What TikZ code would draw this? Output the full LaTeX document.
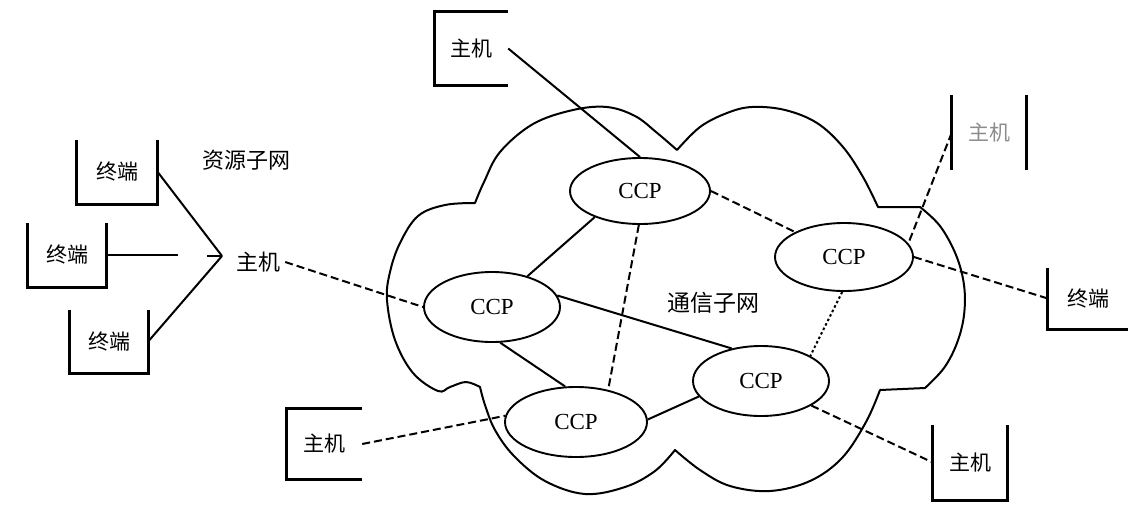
\documentclass[tikz,border=0pt]{standalone}
\usepackage{fontspec}
\setmainfont{Liberation Serif}
\newfontfamily\cjk{Noto Sans CJK SC}
\usetikzlibrary{shapes.geometric}
\begin{document}
\begin{tikzpicture}[x=1pt,y=-1pt,
  ccp/.style={ellipse, draw, line width=1.9pt, inner sep=0pt, font=\fontsize{23}{23}\selectfont},
  box/.style={inner sep=0pt, font=\cjk\fontsize{21}{21}\selectfont},
  side/.style={line width=2.8pt},
  link/.style={line width=2pt},
  dlink/.style={link, dash pattern=on 8pt off 4pt},
  dotlink/.style={link, dash pattern=on 2.5pt off 2.5pt},
  cloudline/.style={line width=2pt, line join=round},
  lbl/.style={inner sep=0pt, font=\cjk\fontsize{22}{22}\selectfont}
]
\useasboundingbox (0,0) rectangle (1147,530);

% cloud (communication subnet boundary)
\draw[cloudline]
  plot[smooth, tension=0.6] coordinates {(475,203) (484,182) (500,152) (533,124) (573,110) (607,107) (635,116) (656,132) (677,150)}
  -- plot[smooth, tension=0.6] coordinates {(677,150) (700,127) (727,113) (752,107) (785,110) (817,123) (843,147) (863,177) (878,207)}
  -- (920,207)
  -- plot[smooth, tension=0.6] coordinates {(920,207) (940,226) (956,255) (964,285) (964,315) (957,343) (944,368) (925,388)}
  -- (880,390)
  -- plot[smooth, tension=0.6] coordinates {(880,390) (866,422) (842,458) (810,481) (770,491) (730,486) (700,470) (675,450)}
  -- plot[smooth, tension=0.6] coordinates {(675,450) (655,471) (625,487) (585,494) (545,481) (514,456) (495,430) (485,405) (480,387)}
  -- plot[smooth, tension=0.6] coordinates {(480,387) (466,382) (450,387) (438,391) (413,373) (395,340) (387,300) (390,272) (400,243) (418,216) (445,205) (475,203)}
  -- cycle;

% CCP nodes
\node[ccp, minimum width=140pt, minimum height=66pt] (cT)  at (640,191) {CCP};
\node[ccp, minimum width=138pt, minimum height=68pt] (cR)  at (844,257) {CCP};
\node[ccp, minimum width=136pt, minimum height=70pt] (cL)  at (492,307) {CCP};
\node[ccp, minimum width=136pt, minimum height=70pt] (cLR) at (761,381) {CCP};
\node[ccp, minimum width=142pt, minimum height=70pt] (cB)  at (576,422) {CCP};

% boxes (hosts and terminals)
\node[box, minimum width=73pt, minimum height=73pt] (hT)  at (471.5,48.5) {主机};
\node[box, minimum width=74pt, minimum height=75pt, text=black!45] (hTR) at (989,132.5) {主机};
\node[box, minimum width=80pt, minimum height=61pt] (tR)  at (1088,298.5) {终端};
\node[box, minimum width=75pt, minimum height=70pt] (hL)  at (324.5,444) {主机};
\node[box, minimum width=74pt, minimum height=75pt] (hBR) at (970,462.5) {主机};
\node[box, minimum width=81pt, minimum height=64pt] (t1)  at (117,172) {终端};
\node[box, minimum width=78pt, minimum height=64pt] (t2)  at (67,255) {终端};
\node[box, minimum width=78pt, minimum height=63pt] (t3)  at (109,341.5) {终端};

\draw[side] (hT.north east) -- (hT.north west) -- (hT.south west) -- (hT.south east);
\draw[side] (hTR.north west) -- (hTR.south west);
\draw[side] (hTR.north east) -- (hTR.south east);
\draw[side] (tR.north west) -- (tR.south west) -- (tR.south east);
\draw[side] (hL.north east) -- (hL.north west) -- (hL.south west) -- (hL.south east);
\draw[side] (hBR.north west) -- (hBR.south west) -- (hBR.south east) -- (hBR.north east);
\draw[side] (t1.north west) -- (t1.south west) -- (t1.south east) -- (t1.north east);
\draw[side] (t2.north west) -- (t2.south west) -- (t2.south east) -- (t2.north east);
\draw[side] (t3.north west) -- (t3.south west) -- (t3.south east) -- (t3.north east);

% labels
\node[lbl] (res) at (246,160) {资源子网};
\node[lbl, font=\cjk\fontsize{23}{23}\selectfont] (com) at (713,303) {通信子网};
\node[lbl, inner sep=5pt] (hM) at (258,262) {主机};

% terminal concentration
\coordinate (apex) at (222,256);
\coordinate (t2end) at (178,255);
\coordinate (stub) at (207,256);
\draw[link] (t1.east) -- (apex);
\draw[link] (t3.east) -- (apex);
\draw[link] (t2.east) -- (t2end);
\draw[link] (stub) -- (apex);

% connections
\draw[link] (hT.east) -- (cT.north);
\draw[dlink] (cT.east) -- (cR.153);
\draw[link] (cL.41) -- (cT.210);
\draw[dlink] (cT.-92) -- (cB.45);
\draw[link] (cL.10) -- (cLR.132);
\draw[link] (cL.-77) -- (cB.107);
\draw[link] (cB.2) -- (cLR.194);
\draw[dotlink] (cR.-93) -- (cLR.27);
\draw[dlink] (cLR.-26) -- (hBR.west);
\draw[dlink] (hL.east) -- (cB.175);
\draw[dlink] (cR.east) -- (tR.west);
\draw[dlink] (hTR.west) -- (cR.12);
\draw[dlink] (hM.east) -- (cL.west);
\end{tikzpicture}
\end{document}
